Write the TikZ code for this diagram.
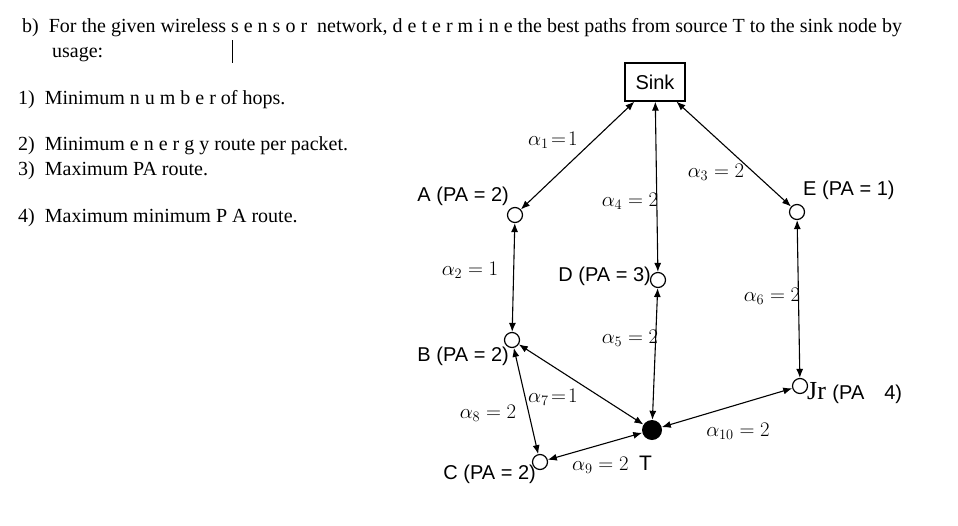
\documentclass[tikz,border=0pt]{standalone}
\usepackage{fontspec}
\setmainfont{Liberation Serif}
\newfontfamily\lab{Liberation Sans}
\usetikzlibrary{arrows.meta}
\begin{document}
\begin{tikzpicture}[x=1pt,y=-1pt,
  nd/.style={circle,draw,line width=1.2pt,fill=white,inner sep=0pt,minimum size=15pt},
  link/.style={{Latex[length=9pt,width=7pt]}-{Latex[length=9pt,width=7pt]},line width=1.1pt},
  txt/.style={anchor=base west,inner sep=0pt,font=\fontsize{20}{24}\selectfont},
  lb/.style={font=\lab\fontsize{20}{24}\selectfont,inner sep=1pt},
  al/.style={font=\fontsize{21}{24}\selectfont,inner sep=1pt}]
\useasboundingbox (0,0) rectangle (958,525);
\node[txt] (l1) at (22,32) {b)\ \ For the given wireless s e n s o r\ \ network, d e t e r m i n e\ the best paths from source T to the sink node by};
\node[txt] (l2) at (52,57) {usage:};
\draw[line width=1pt] (232,40) -- (232,63);
\node[txt] (i1) at (18,104) {1)\ \ Minimum n u m b e r\ of hops.};
\node[txt] (i2) at (18,150) {2)\ \ Minimum e n e r g y\ route\ per packet.};
\node[txt] (i3) at (18,175) {3)\ \ Maximum\ PA route.};
\node[txt] (i4) at (18,222) {4)\ \ Maximum\ minimum P A\ route.};

\node[draw,line width=1.2pt,minimum width=60pt,minimum height=38pt,font=\lab\fontsize{20}{24}\selectfont] (S) at (655,82) {Sink};
\node[nd] (A) at (515,215) {};
\node[nd] (E) at (797,212) {};
\node[nd] (D) at (658,280) {};
\node[nd] (B) at (512,340) {};
\node[nd] (F) at (800,386) {};
\node[circle,fill=black,inner sep=0pt,minimum size=20pt] (T) at (652,430) {};
\node[nd] (C) at (540,462) {};

\draw[link] (S) -- (A);
\draw[link] (S) -- (D);
\draw[link] (S) -- (E);
\draw[link] (A) -- (B);
\draw[link] (E) -- (F);
\draw[link] (D) -- (T);
\draw[link] (B) -- (T);
\draw[link] (B) -- (C);
\draw[link] (C) -- (T);
\draw[link] (F) -- (T);

\node[lb,anchor=east] at (510,196) {A (PA = 2)};
\node[lb,anchor=west] at (802,190) {E (PA = 1)};
\node[lb,anchor=east] at (652,276) {D (PA = 3)};
\node[lb,anchor=east] at (510,356) {B (PA = 2)};
\node[lb,anchor=east] at (537,474) {C (PA = 2)};
\node[anchor=west,inner sep=1pt] at (806,393) {\fontsize{26}{28}\selectfont Jr\ \lab\fontsize{20}{24}\selectfont (PA\quad 4)};

\node[al] at (553,140) {$\alpha_1\!=\!1$};
\node[al] at (716,172) {$\alpha_3=2$};
\node[al] at (630,201) {$\alpha_4=2$};
\node[al] at (470,270) {$\alpha_2=1$};
\node[al] at (772,296) {$\alpha_6=2$};
\node[al] at (630,338) {$\alpha_5=2$};
\node[al] at (553,397) {$\alpha_7\!=\!1$};
\node[al] at (488,413) {$\alpha_8=2$};
\node[al] at (738,431) {$\alpha_{10}=2$};
\node[al] at (612,465) {$\alpha_9=2$\ \ \lab T};
\end{tikzpicture}
\end{document}
